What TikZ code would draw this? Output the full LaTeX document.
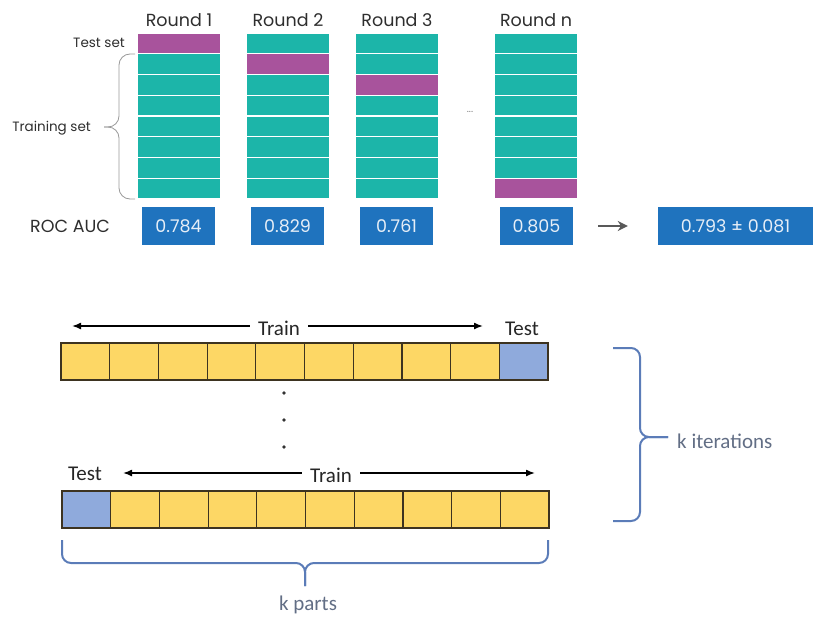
\documentclass[tikz,border=0pt]{standalone}
\usepackage{fontspec}
\setmainfont{Poppins}
\newfontfamily\calfont{Carlito}
\usetikzlibrary{arrows.meta}
\tikzset{>=Latex}
\definecolor{traincol}{HTML}{1CB5A9}
\definecolor{testcol}{HTML}{A8539C}
\definecolor{scorecol}{HTML}{1F73BE}
\definecolor{scoretxt}{HTML}{E6EEF7}
\definecolor{partcol}{HTML}{FDD765}
\definecolor{holdcol}{HTML}{8FAADC}
\definecolor{partline}{HTML}{3D3320}
\definecolor{bracecol}{HTML}{5B7CB8}
\definecolor{ktext}{HTML}{626E85}
\definecolor{labeltxt}{HTML}{2E2E2E}
\tikzset{cell/.style={draw=white,line width=1.2pt,minimum width=84pt,minimum height=20.75pt,inner sep=0pt}}
\tikzset{score/.style={fill=scorecol,text=scoretxt,minimum width=73pt,minimum height=38pt,inner sep=0pt,font=\fontsize{17.5}{20}\selectfont}}
\tikzset{toptext/.style={text=labeltxt,inner sep=0pt,font=\fontsize{17.5}{20}\selectfont}}
\tikzset{smalltext/.style={text=labeltxt,inner sep=0pt,font=\fontsize{13.5}{15}\selectfont}}
\tikzset{part/.style={draw=partline,line width=1.2pt,fill=partcol,minimum width=48.7pt,minimum height=37pt,inner sep=0pt}}
\tikzset{btext/.style={text=black!85,inner ysep=0pt,inner xsep=8pt,font=\calfont\fontsize{21}{24}\selectfont}}
\tikzset{trainarrow/.style={->,>={Latex[length=9pt,width=7pt]},line width=1.5pt}}
\tikzset{kbrace/.style={draw=bracecol,line width=2pt,rounded corners=9pt}}
\tikzset{smalldot/.style={circle,fill=black!80,inner sep=1.3pt}}

\begin{document}
\begin{tikzpicture}[x=1pt,y=-1pt]
\useasboundingbox (0,0) rectangle (814,624);

% rounds
\foreach \c/\x/\p in {1/137/0, 2/246/1, 3/355/2, n/494/7} {
  \foreach \r in {0,...,7} {
    \ifnum\r=\p \def\fc{testcol}\else\def\fc{traincol}\fi
    \node[cell,fill=\fc] (c\c-\r) at (\x+42,43.375+\r*20.75) {};
  }
  \node[toptext,anchor=base] (round\c) at (\x+42,26) {Round \c};
}
\node[text=gray,font=\fontsize{10}{12}\selectfont] (more) at (470,112) {...};

\node[smalltext,anchor=base east] (testset) at (125,47) {Test set};
\node[smalltext,anchor=base east] (trainset) at (91,131) {Training set};
\draw[gray!80,line width=0.8pt,rounded corners=11pt] (135,54) -- (119,54) -- (119,127) -- (104,127);
\draw[gray!80,line width=0.8pt,rounded corners=11pt] (135,199) -- (119,199) -- (119,127) -- (104,127);

% scores
\node[toptext,anchor=base west] (roc) at (30,232) {ROC AUC};
\foreach \c/\x/\v in {1/178.5/0.784, 2/287.5/0.829, 3/396.5/0.761, 4/536.5/0.805}
  \node[score] (s\c) at (\x,226) {\v};
\node[score,minimum width=155pt] (avg) at (735.5,226) {0.793 ± 0.081};
\draw[->,>={Stealth[length=10pt,width=10pt]},draw=black!65,fill=black!65,line width=1.6pt,shorten <=25pt,shorten >=30pt] (s4) -- (avg);

% k-fold strips
\foreach \i in {0,...,9} {
  \ifnum\i=9 \def\fc{holdcol}\else\def\fc{partcol}\fi
  \node[part,fill=\fc] (a\i) at (85.35+48.7*\i,361.5) {};
}
\foreach \i in {0,...,9} {
  \ifnum\i=0 \def\fc{holdcol}\else\def\fc{partcol}\fi
  \node[part,fill=\fc] (b\i) at (86.35+48.7*\i,509.5) {};
}

\node[btext,anchor=base] (trainA) at (279,335) {Train};
\node[btext,anchor=base] (testA) at (522,335) {Test};
\coordinate (la) at (72,326);
\coordinate (ra) at (483,326);
\draw[trainarrow] (la -| trainA.west) -- (la);
\draw[trainarrow] (ra -| trainA.east) -- (ra);

\node[btext,anchor=base] (testB) at (85,480) {Test};
\node[btext,anchor=base] (trainB) at (331,482) {Train};
\coordinate (lb) at (123,473);
\coordinate (rb) at (535,473);
\draw[trainarrow] (lb -| trainB.west) -- (lb);
\draw[trainarrow] (rb -| trainB.east) -- (rb);

\foreach \k/\y in {1/393, 2/420, 3/447}
  \node[smalldot] (dot\k) at (284,\y) {};

% braces
\draw[kbrace] (62,540) -- (62,563) -- (305,563) -- (305,586);
\draw[kbrace] (548,540) -- (548,563) -- (305,563) -- (305,586);
\node[btext,text=ktext,anchor=base] (kparts) at (308,610) {k parts};
\draw[kbrace] (613,348) -- (640,348) -- (640,437) -- (668,437);
\draw[kbrace] (613,521) -- (640,521) -- (640,437) -- (668,437);
\node[btext,text=ktext,anchor=base west,inner xsep=0pt] (kiter) at (677,448) {k iterations};
\end{tikzpicture}
\end{document}
